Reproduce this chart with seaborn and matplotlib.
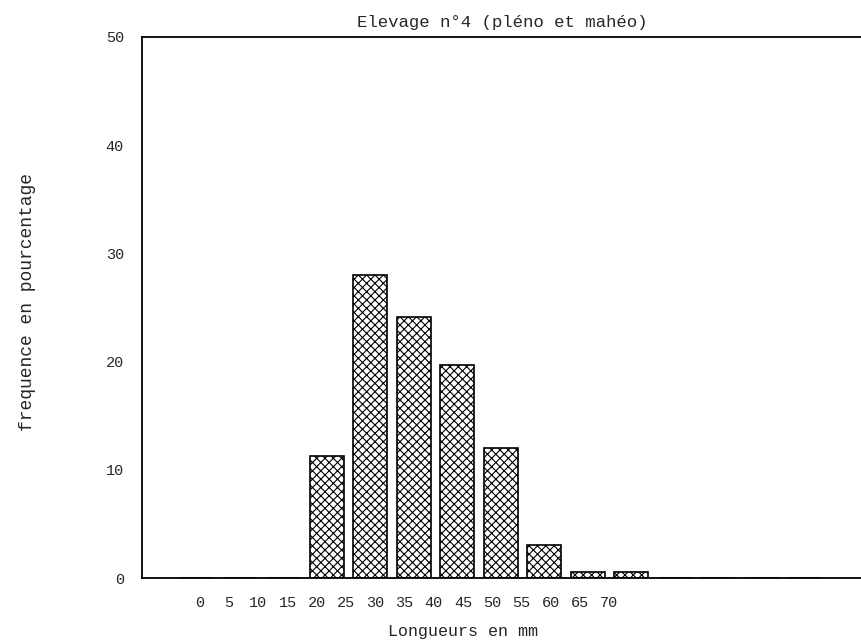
import numpy as np
import pandas as pd
import matplotlib
matplotlib.use("Agg")
import matplotlib.pyplot as plt
import seaborn as sns

# classes de longueur (mm) et frequences (%)
longueurs = ["0", "5", "10", "15", "20", "25", "30", "35", "40", "45", "50", "55", "60", "65", "70"]
frequences = [0, 0, 0, 11.3, 28.0, 24.1, 19.7, 12.0, 3.05, 0.6, 0.6, 0, 0, 0, 0]
tick_labels = longueurs

sns.set_theme(style="white")
plt.rcParams['font.family'] = ['Liberation Mono', 'DejaVu Sans Mono']
plt.rcParams['hatch.linewidth'] = 0.8

df = pd.DataFrame({"longueur": longueurs, "freq": frequences})

fig = plt.figure(figsize=(8.62, 6.42), dpi=100)
ax = fig.add_axes([142 / 862, 1 - 578 / 642, 1 - 142 / 862, (578 - 37) / 642])

sns.barplot(data=df, x="longueur", y="freq", order=longueurs, color="white",
            edgecolor="black", linewidth=1.2, hatch="xxxx", width=0.78,
            saturation=1, ax=ax)

ax.set_xlim(-1.25, 15.3)
ax.set_ylim(0, 50)
ax.set_yticks([0, 10, 20, 30, 40, 50])
ax.set_yticklabels(["0", "10", "20", "30", "40", "50"], fontsize=11)

# les etiquettes de l'axe x sont espacees plus serre que les barres (graphique d'origine)
pos = np.arange(len(tick_labels)) * 0.672 + 0.08
ax.set_xticks(pos)
ax.set_xticklabels(tick_labels, fontsize=11)
ax.tick_params(axis="x", length=0, pad=13)
ax.tick_params(axis="y", length=0, pad=13)

for side in ["left", "top", "bottom"]:
    ax.spines[side].set_color("black")
    ax.spines[side].set_linewidth(1.3)
ax.spines["right"].set_visible(False)

ax.set_title("Elevage n°4 (pléno et mahéo)", fontsize=12.5, pad=7)
ax.set_xlabel("Longueurs en mm", fontsize=12)
ax.xaxis.set_label_coords((463 - 142) / 720, -0.085)
ax.set_ylabel("frequence en pourcentage", fontsize=13)
ax.yaxis.set_label_coords(-0.147, 0.51)

plt.savefig("out.png", dpi=100)
